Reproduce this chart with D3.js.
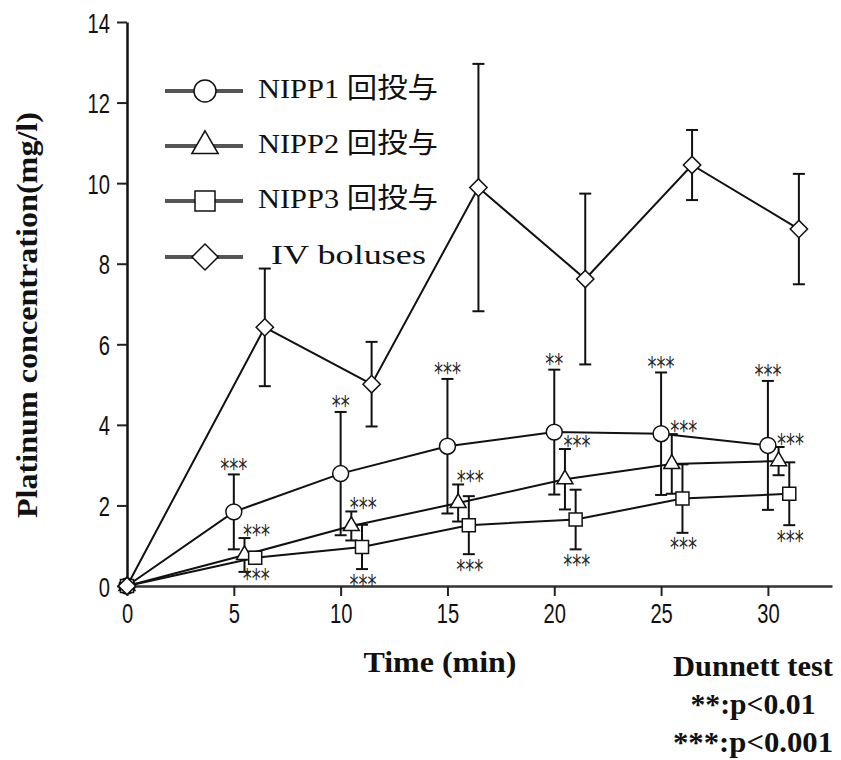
<!DOCTYPE html>
<html lang="ja">
<head>
<meta charset="UTF-8">
<title>Platinum concentration</title>
<script src="https://d3js.org/d3.v7.min.js"></script>
<style>
  body { margin: 0; background: #fff; }
  .tick-label { font-family: "Liberation Sans", "DejaVu Sans", sans-serif; font-size: 28px; fill: #111; }
  .legend-text { font-family: "Liberation Serif", "Noto Sans CJK JP", serif; font-size: 28px; fill: #111; }
  .stars { font-family: "DejaVu Sans", sans-serif; font-size: 26px; fill: #222; }
  .title-bold { font-family: "Liberation Serif", "Times New Roman", serif; font-weight: bold; fill: #111; }
</style>
</head>
<body>
<script>
// sampling times (min)
const times = [0, 5, 10, 15, 20, 25, 30];
const yTicks = [0, 2, 4, 6, 8, 10, 12, 14];
const xTicks = [0, 5, 10, 15, 20, 25, 30];

// mean and SD per group
const nipp1Mean = [0, 1.84, 2.79, 3.47, 3.82, 3.78, 3.49];
const nipp1Sd   = [0, 0.93, 1.53, 1.67, 1.55, 1.52, 1.60];
const nipp2Mean = [0, 0.77, 1.49, 2.06, 2.65, 3.03, 3.10];
const nipp2Sd   = [0, 0.42, 0.36, 0.46, 0.75, 0.74, 0.35];
const nipp3Mean = [0, 0.70, 0.97, 1.51, 1.65, 2.17, 2.29];
const nipp3Sd   = [0, 0.15, 0.55, 0.72, 0.74, 0.85, 0.78];
const ivMean    = [0, 6.42, 5.01, 9.89, 7.62, 10.45, 8.86];
const ivSd      = [0, 1.46, 1.05, 3.07, 2.12, 0.87, 1.37];

// Dunnett significance marks (vs IV boluses)
const nipp1Sig = ['', '***', '**', '***', '**', '***', '***'];
const nipp2Sig = ['', '***', '***', '***', '***', '***', '***'];
const nipp3Sig = ['', '***', '***', '***', '***', '***', '***'];

const legendLabels = ['NIPP1 回投与', 'NIPP2 回投与', 'NIPP3 回投与', 'IV boluses'];

const width = 841, height = 760;

const svg = d3.select('body').append('svg')
  .attr('width', width).attr('height', height)
  .style('background', '#fff');

const x = d3.scaleLinear().domain([0, 33]).range([127, 832]);
const y = d3.scaleLinear().domain([0, 14]).range([586, 22]);

// axes
const yAxis = svg.append('g')
  .attr('transform', `translate(${x(0)},0)`)
  .call(d3.axisLeft(y).tickValues(yTicks).tickSize(10).tickSizeOuter(0));
yAxis.select('.domain').attr('stroke', '#111').attr('stroke-width', 2.5);
yAxis.selectAll('.tick line').attr('stroke', '#222').attr('stroke-width', 2);
yAxis.selectAll('.tick text')
  .attr('class', 'tick-label')
  .attr('font-size', null).attr('font-family', null)
  .attr('x', -17 / 0.72).attr('dy', '0.36em')
  .attr('transform', 'scale(0.72,1)');

const xAxis = svg.append('g')
  .attr('transform', `translate(0,${y(0)})`)
  .call(d3.axisBottom(x).tickValues(xTicks).tickSize(10).tickSizeOuter(0));
xAxis.select('.domain').attr('stroke', '#333').attr('stroke-width', 2.5);
xAxis.selectAll('.tick line').attr('stroke', '#222').attr('stroke-width', 2);
xAxis.selectAll('.tick text')
  .attr('class', 'tick-label')
  .attr('font-size', null).attr('font-family', null)
  .attr('y', 37).attr('dy', 0)
  .attr('transform', 'scale(0.72,1)');
svg.selectAll('.tick-label').attr('fill', '#111');

// series definitions; shift separates overlapping groups
const series = [
  { mean: nipp1Mean, sd: nipp1Sd, sig: nipp1Sig, shift: 0,    sym: d3.symbolCircle,   size: 200, rot: 0,  lsize: 380, sigPos: 'top' },
  { mean: nipp2Mean, sd: nipp2Sd, sig: nipp2Sig, shift: 0.5,  sym: d3.symbolTriangle, size: 110, rot: 0,  lsize: 300, sigPos: 'right' },
  { mean: nipp3Mean, sd: nipp3Sd, sig: nipp3Sig, shift: 1.0,  sym: d3.symbolSquare,   size: 170, rot: 0,  lsize: 400, sigPos: 'bottom' },
  { mean: ivMean,    sd: ivSd,    sig: null,     shift: 1.45, sym: d3.symbolSquare,   size: 150, rot: 45, lsize: 340, sigPos: null }
];

const pts = s => times.map((t, i) => ({
  t: i === 0 ? 0 : t + s.shift, v: s.mean[i], sd: s.sd[i], sig: s.sig ? s.sig[i] : ''
}));

const line = d3.line().x(d => x(d.t)).y(d => y(d.v));

series.forEach(s => {
  svg.append('path').datum(pts(s))
    .attr('d', line).attr('fill', 'none')
    .attr('stroke', '#111').attr('stroke-width', 2);
});

// error bars
series.forEach(s => {
  const g = svg.append('g').attr('stroke', '#111').attr('stroke-width', 2);
  pts(s).filter(d => d.sd > 0).forEach(d => {
    const cx = x(d.t), y1 = y(d.v + d.sd), y2 = y(d.v - d.sd);
    g.append('line').attr('x1', cx).attr('x2', cx).attr('y1', y1).attr('y2', y2);
    g.append('line').attr('x1', cx - 6).attr('x2', cx + 6).attr('y1', y1).attr('y2', y1);
    g.append('line').attr('x1', cx - 6).attr('x2', cx + 6).attr('y1', y2).attr('y2', y2);
  });
});

// markers
series.forEach(s => {
  svg.append('g').selectAll('path').data(pts(s)).join('path')
    .attr('d', d3.symbol().type(s.sym).size(s.size))
    .attr('transform', d => `translate(${x(d.t)},${y(d.v)}) rotate(${s.rot})`)
    .attr('fill', '#fff').attr('stroke', '#111').attr('stroke-width', 1.5);
});

// significance marks
series.filter(s => s.sig).forEach(s => {
  pts(s).filter(d => d.sig).forEach(d => {
    const cx = x(d.t);
    let tx, ty;
    if (s.sigPos === 'top') { tx = cx; ty = y(d.v + d.sd) + 3.5; }
    else if (s.sigPos === 'right') { tx = cx + 12; ty = y(d.v + d.sd) + 5.5; }
    else { tx = cx + 1; ty = y(d.v - d.sd) + 24.5; }
    svg.append('text').attr('class', 'stars')
      .attr('x', tx).attr('y', ty).attr('text-anchor', 'middle')
      .attr('textLength', d.sig.length * 9).attr('lengthAdjust', 'spacingAndGlyphs')
      .text(d.sig);
  });
});

// legend
const legendY = [91, 146, 201, 257];
series.forEach((s, i) => {
  const g = svg.append('g').attr('transform', `translate(205,${legendY[i]})`);
  g.append('line').attr('x1', -40).attr('x2', 38).attr('stroke', '#555').attr('stroke-width', 4);
  g.append('path')
    .attr('d', d3.symbol().type(s.sym).size(s.lsize))
    .attr('transform', `rotate(${s.rot})`)
    .attr('fill', '#fff').attr('stroke', '#111').attr('stroke-width', 1.5);
  const isIV = i === 3;
  svg.append('text').attr('class', 'legend-text')
    .attr('x', isIV ? 271 : 258).attr('y', legendY[i] + 7)
    .attr('textLength', isIV ? 155 : 180).attr('lengthAdjust', 'spacingAndGlyphs')
    .text(legendLabels[i]);
});

// axis titles
svg.append('text').attr('class', 'title-bold')
  .attr('transform', 'translate(37,315) rotate(-90)')
  .attr('text-anchor', 'middle').attr('font-size', 30)
  .attr('textLength', 406).attr('lengthAdjust', 'spacingAndGlyphs')
  .text('Platinum concentration(mg/l)');

svg.append('text').attr('class', 'title-bold')
  .attr('x', 440).attr('y', 672).attr('text-anchor', 'middle').attr('font-size', 30)
  .attr('textLength', 153).attr('lengthAdjust', 'spacingAndGlyphs')
  .text('Time (min)');

// test note
const note = [['Dunnett test', 676, 160], ['**:p<0.01', 714, 125], ['***:p<0.001', 752, 160]];
note.forEach(([t, ny, len]) => {
  svg.append('text').attr('class', 'title-bold')
    .attr('x', 753).attr('y', ny).attr('text-anchor', 'middle').attr('font-size', 30)
    .attr('textLength', len).attr('lengthAdjust', 'spacingAndGlyphs')
    .text(t);
});
</script>
</body>
</html>
